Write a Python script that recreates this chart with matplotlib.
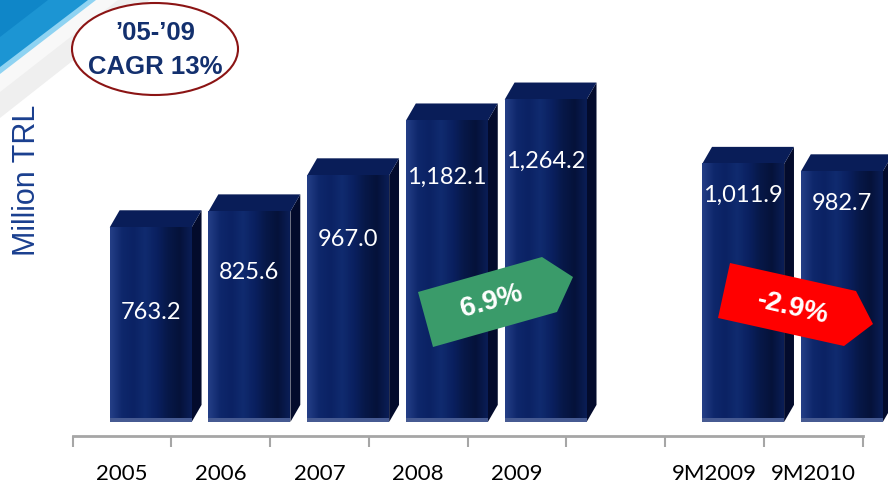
import numpy as np
import matplotlib
matplotlib.use('Agg')
import matplotlib.pyplot as plt
from matplotlib.patches import Polygon, Ellipse
from matplotlib.colors import LinearSegmentedColormap

categories = ['2005', '2006', '2007', '2008', '2009', '', '9M2009', '9M2010']
values = [763.2, 825.6, 967.0, 1182.1, 1264.2, None, 1011.9, 982.7]
value_labels = ['763.2', '825.6', '967.0', '1,182.1', '1,264.2', '', '1,011.9', '982.7']
label_pos = [0.56, 0.71, 0.74, 0.81, 0.81, 0, 0.88, 0.87]  # label height as share of bar
growth_labels = ['6.9%', '-2.9%']

W, H = 888, 492
fig = plt.figure(figsize=(W / 100, H / 100), dpi=100)
fig.patch.set_facecolor('white')


def px(x, y):
    return (x / W, 1 - y / H)


# slide decoration, top left corner
for pts, col in [
    ([(0, 0), (150, 0), (0, 118)], '#EFEFEF'),
    ([(0, 0), (118, 0), (0, 92)], '#F8F8F8'),
    ([(0, 0), (96, 0), (0, 74)], '#8FD3F2'),
    ([(0, 0), (88, 0), (0, 67)], '#1C95D3'),
    ([(0, 0), (48, 0), (0, 37)], '#0F86C8'),
]:
    fig.patches.append(Polygon([px(*p) for p in pts], closed=True, transform=fig.transFigure,
                               facecolor=col, edgecolor='none', zorder=0))

ax = fig.add_axes([72.7 / W, 56 / H, 789.9 / W, 396 / H])
ax.set_facecolor('none')

ylo, yhi = -55, 1498
off, bw = 0.29, 0.83
dx, dy = 0.10, 67

front_cmap = LinearSegmentedColormap.from_list(
    'front', ['#243E86', '#0E276B', '#0B2264', '#102B6F', '#0A2060', '#071848', '#05123A', '#0A1D55'])
grad = np.linspace(0, 1, 64).reshape(1, -1)

for i, v in enumerate(values):
    if v is None:
        continue
    x0 = i + off - bw / 2
    x1 = i + off + bw / 2
    # side face
    ax.add_patch(Polygon([(x1, 0), (x1, v), (x1 + dx, v + dy), (x1 + dx, dy)], closed=True,
                         facecolor='#030B2C', edgecolor='none', zorder=2, clip_on=False))
    # top face
    ax.add_patch(Polygon([(x0, v), (x1, v), (x1 + dx, v + dy), (x0 + dx, v + dy)], closed=True,
                         facecolor='#091D58', edgecolor='none', zorder=2, clip_on=False))
    # front face
    im = ax.imshow(grad, cmap=front_cmap, extent=[x0, x1, 0, v], aspect='auto', zorder=3,
                   interpolation='bicubic')
    im.set_clip_on(False)
    ax.add_patch(plt.Rectangle((x0, 0), bw, 14, facecolor='#465A92', edgecolor='none', zorder=4,
                               clip_on=False))
    ax.text(i + off, v * label_pos[i], value_labels[i], color='white', fontsize=17,
            family='Lato', ha='center', va='center', zorder=5)

ax.set_xlim(-0.5, len(categories) - 0.5)
ax.set_ylim(ylo, yhi)
for s in ['left', 'right', 'top']:
    ax.spines[s].set_visible(False)
ax.spines['bottom'].set_color('#A6A6A6')
ax.spines['bottom'].set_linewidth(2)
ax.spines['bottom'].set_position(('data', ylo))
ax.set_yticks([])
ax.set_xticks(np.arange(-0.5, len(categories)))
ax.set_xticklabels([])
ax.tick_params(axis='x', which='major', length=8, width=1.5, color='#A6A6A6')
ax.set_xticks(np.arange(len(categories)), minor=True)
ax.set_xticklabels(categories, minor=True, fontsize=16, family='Lato')
ax.tick_params(axis='x', which='minor', length=0, pad=20)

fig.text(27 / W, 1 - 180 / H, 'Million TRL', rotation=90, fontsize=22, color='#1A3F8F',
         family='Liberation Sans', ha='center', va='center')

# CAGR bubble
fig.patches.append(Ellipse(px(155, 49), 166 / W, 92 / H, transform=fig.transFigure,
                           facecolor='white', edgecolor='#8B1414', lw=1.5, zorder=3))
fig.text(*px(155, 33), '\u201905-\u201909', fontsize=18.5, fontweight='bold', color='#13306E',
         family='Liberation Sans', ha='center', va='center', zorder=4)
fig.text(*px(155, 67), 'CAGR 13%', fontsize=18.5, fontweight='bold', color='#13306E',
         family='Liberation Sans', ha='center', va='center', zorder=4)

# growth arrows
green = [(418, 292), (542, 257), (573, 277), (557, 312), (433, 347)]
red = [(730, 263), (856, 291), (873, 324), (844, 346), (718, 318)]
fig.patches.append(Polygon([px(*p) for p in green], closed=True, transform=fig.transFigure,
                           facecolor='#3A9B6A', edgecolor='none', zorder=5))
fig.patches.append(Polygon([px(*p) for p in red], closed=True, transform=fig.transFigure,
                           facecolor='#FF0000', edgecolor='none', zorder=5))
fig.text(*px(492, 302), growth_labels[0], fontsize=20, fontweight='bold', color='white',
         family='Liberation Sans', ha='center', va='center', rotation=16, zorder=6)
fig.text(*px(793, 308), growth_labels[1], fontsize=20, fontweight='bold', color='white',
         family='Liberation Sans', ha='center', va='center', rotation=-13, zorder=6)

fig.savefig('out.png', dpi=100)
